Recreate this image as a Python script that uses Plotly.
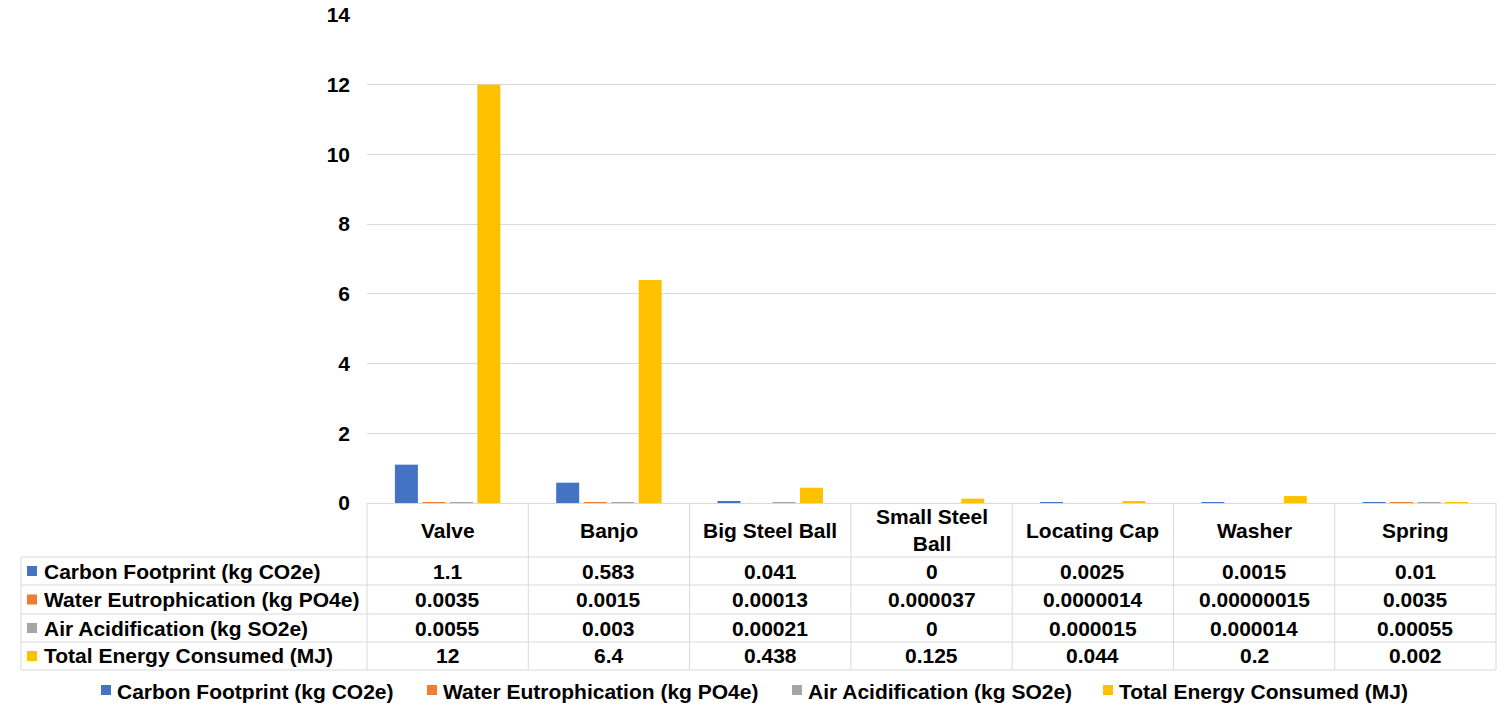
import plotly.graph_objects as go

categories = ["Valve", "Banjo", "Big Steel Ball", "Small Steel Ball", "Locating Cap", "Washer", "Spring"]
header_labels = ["Valve", "Banjo", "Big Steel Ball", "Small Steel<br>Ball", "Locating Cap", "Washer", "Spring"]

series_names = [
    "Carbon Footprint (kg CO2e)",
    "Water Eutrophication (kg PO4e)",
    "Air Acidification (kg SO2e)",
    "Total Energy Consumed (MJ)",
]
carbon = [1.1, 0.583, 0.041, 0, 0.0025, 0.0015, 0.01]
water = [0.0035, 0.0015, 0.00013, 0.000037, 0.0000014, 0.00000015, 0.0035]
air = [0.0055, 0.003, 0.00021, 0, 0.000015, 0.000014, 0.00055]
energy = [12, 6.4, 0.438, 0.125, 0.044, 0.2, 0.002]

carbon_txt = ["1.1", "0.583", "0.041", "0", "0.0025", "0.0015", "0.01"]
water_txt = ["0.0035", "0.0015", "0.00013", "0.000037", "0.0000014", "0.00000015", "0.0035"]
air_txt = ["0.0055", "0.003", "0.00021", "0", "0.000015", "0.000014", "0.00055"]
energy_txt = ["12", "6.4", "0.438", "0.125", "0.044", "0.2", "0.002"]

colors = ["#4472C4", "#ED7D31", "#A5A5A5", "#FFC000"]
y_ticks = [0, 2, 4, 6, 8, 10, 12, 14]

W, H = 1509, 716
L, R, T, B = 367, 1496, 15, 503
PW, PH = R - L, B - T
FONT = "Liberation Sans, Arial, sans-serif"
GRID = "#D9D9D9"
FS = 21


def px(X):
    return (X - L) / PW


def py(Y):
    return (B - Y) / PH


fig = go.Figure()
for name, vals, col in zip(series_names, [carbon, water, air, energy], colors):
    fig.add_trace(go.Bar(x=categories, y=vals, name=name, marker_color=col,
                         marker_line_width=0, showlegend=False))

shapes = []
annotations = []

# table geometry (pixels)
row_lines = [557, 585, 614, 642, 670]
header_center = 530
row_centers = [(row_lines[i] + row_lines[i + 1]) / 2 for i in range(4)]
table_left = 21
col_w = PW / len(categories)

line = dict(color=GRID, width=1)
for Y in row_lines:
    shapes.append(dict(type="line", xref="paper", yref="paper", x0=px(table_left), x1=px(R),
                       y0=py(Y), y1=py(Y), line=line, layer="above"))
for i in range(len(categories) + 1):
    X = L + i * col_w
    shapes.append(dict(type="line", xref="paper", yref="paper", x0=px(X), x1=px(X),
                       y0=py(B), y1=py(row_lines[-1]), line=line, layer="above"))
shapes.append(dict(type="line", xref="paper", yref="paper", x0=px(table_left), x1=px(table_left),
                   y0=py(row_lines[0]), y1=py(row_lines[-1]), line=line, layer="above"))

tfont = dict(family=FONT, size=FS, color="#000000", weight="bold")

for i, lab in enumerate(header_labels):
    annotations.append(dict(x=px(L + (i + 0.5) * col_w), y=py(header_center), xref="paper",
                            yref="paper", text=lab, showarrow=False, font=tfont,
                            xanchor="center", yanchor="middle"))

for r, (name, txts, col) in enumerate(zip(series_names, [carbon_txt, water_txt, air_txt, energy_txt], colors)):
    yc = row_centers[r]
    shapes.append(dict(type="rect", xref="paper", yref="paper", x0=px(27), x1=px(37),
                       y0=py(yc + 5), y1=py(yc - 5), fillcolor=col, line=dict(width=0)))
    annotations.append(dict(x=px(42), y=py(yc), xref="paper", yref="paper", text=name,
                            showarrow=False, font=tfont, xanchor="left", yanchor="middle"))
    for i, t in enumerate(txts):
        annotations.append(dict(x=px(L + (i + 0.5) * col_w), y=py(yc), xref="paper",
                                yref="paper", text=t, showarrow=False, font=tfont,
                                xanchor="center", yanchor="middle"))

# legend below the table
legend_x = [101, 427, 792, 1103]
legend_y = 690
for name, col, lx in zip(series_names, colors, legend_x):
    shapes.append(dict(type="rect", xref="paper", yref="paper", x0=px(lx), x1=px(lx + 10),
                       y0=py(legend_y + 5), y1=py(legend_y - 5), fillcolor=col, line=dict(width=0)))
    annotations.append(dict(x=px(lx + 14), y=py(legend_y + 1), xref="paper", yref="paper", text=name,
                            showarrow=False, font=tfont, xanchor="left", yanchor="middle"))

fig.update_layout(
    width=W, height=H,
    margin=dict(l=L, r=W - R, t=T, b=H - B, autoexpand=False),
    paper_bgcolor="white", plot_bgcolor="white",
    font=dict(family=FONT, size=FS, color="#000000", weight="bold"),
    barmode="group", bargap=0.318, bargroupgap=0.164,
    showlegend=False,
    shapes=shapes, annotations=annotations,
)
fig.update_xaxes(showticklabels=False, showline=True, linecolor=GRID, linewidth=1,
                 showgrid=False, ticks="")
fig.update_yaxes(range=[0, 14], tickvals=y_ticks, showgrid=True, gridcolor=GRID, gridwidth=1,
                 zeroline=False, showline=False, ticks="", ticklabelstandoff=16,
                 ticklabeloverflow="allow",
                 tickfont=dict(family=FONT, size=FS, weight="bold"))

fig.write_html("out.html", config={"displayModeBar": False},
               post_script="document.body.style.margin='0';document.body.style.overflow='hidden';")
